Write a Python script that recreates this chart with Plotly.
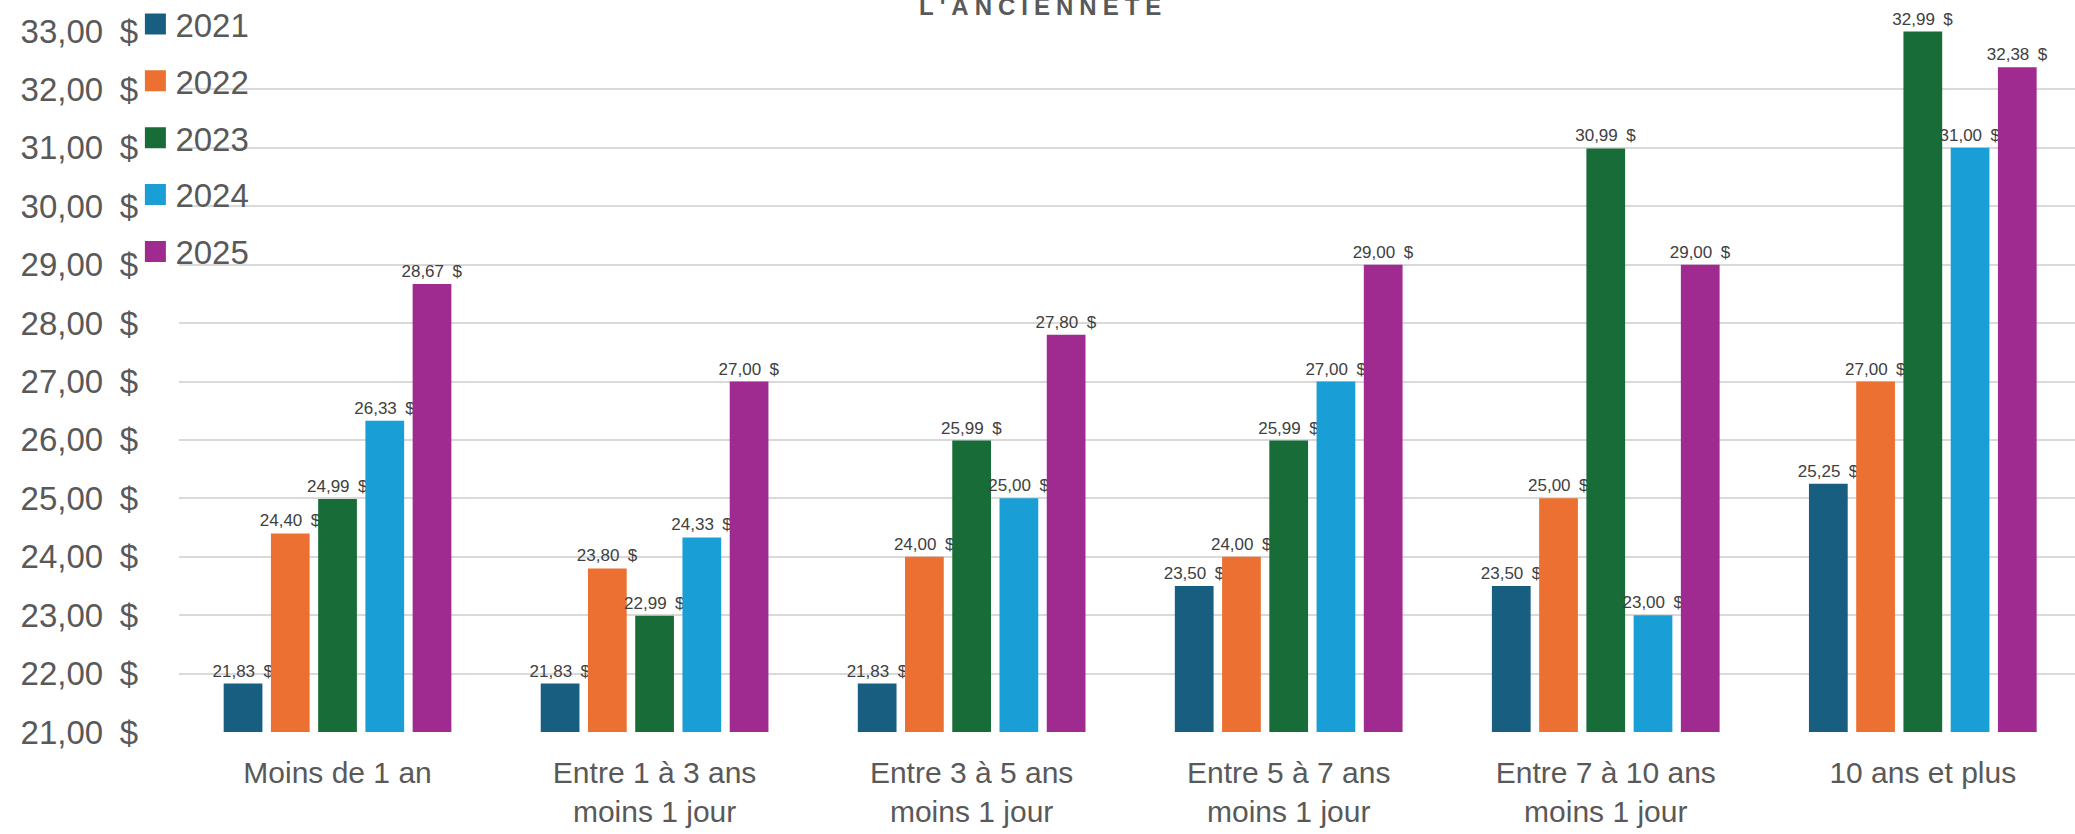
import plotly.graph_objects as go

categories = [
    "Moins de 1 an",
    "Entre 1 à 3 ans<br>moins 1 jour",
    "Entre 3 à 5 ans<br>moins 1 jour",
    "Entre 5 à 7 ans<br>moins 1 jour",
    "Entre 7 à 10 ans<br>moins 1 jour",
    "10 ans et plus",
]
years = ["2021", "2022", "2023", "2024", "2025"]
v2021 = [21.83, 21.83, 21.83, 23.50, 23.50, 25.25]
v2022 = [24.40, 23.80, 24.00, 24.00, 25.00, 27.00]
v2023 = [24.99, 22.99, 25.99, 25.99, 30.99, 32.99]
v2024 = [26.33, 24.33, 25.00, 27.00, 23.00, 31.00]
v2025 = [28.67, 27.00, 27.80, 29.00, 29.00, 32.38]
series = [v2021, v2022, v2023, v2024, v2025]
colors = ["#185E81", "#EC7031", "#176C38", "#1A9ED6", "#A02B90"]
y_ticks = [21, 22, 23, 24, 25, 26, 27, 28, 29, 30, 31, 32, 33]
title_text = "L'ANCIENNETÉ"


def money(v):
    return f"{v:.2f}".replace(".", ",") + "\u2002$"


fig = go.Figure()
for name, vals, col in zip(years, series, colors):
    fig.add_trace(go.Bar(
        x=categories, y=vals, name=name,
        marker=dict(color=col, line=dict(width=0)),
        text=[money(v) for v in vals],
        textposition="outside",
        constraintext="none",
        textfont=dict(family="Liberation Sans, Arial", size=17, color="#404040"),
        cliponaxis=False,
        showlegend=False,
    ))
    fig.add_trace(go.Scatter(
        x=[None], y=[None], name=name, mode="markers",
        marker=dict(symbol="square", size=16, color=col, line=dict(color=col, width=5)),
        showlegend=True, legendgroup=name,
    ))

fig.update_layout(
    width=2075, height=834, autosize=False,
    margin=dict(l=179, r=0, t=31, b=102, pad=0, autoexpand=False),
    paper_bgcolor="white", plot_bgcolor="white",
    barmode="group", bargap=0.255, bargroupgap=0.18,
    font=dict(family="Liberation Sans, Arial", color="#595959"),
    legend=dict(
        x=-0.023, xanchor="left", y=1.05, yanchor="top",
        font=dict(size=33, color="#595959"),
        bgcolor="rgba(0,0,0,0)", tracegroupgap=11,
        itemclick=False,
    ),
    xaxis=dict(
        range=[-0.5, 5.48], showgrid=False, showline=False, zeroline=False,
        tickfont=dict(size=30, color="#595959"), ticks="", ticklabelstandoff=20,
    ),
    yaxis=dict(
        range=[21, 33], tickvals=y_ticks, ticktext=[money(v) for v in y_ticks],
        showgrid=True, gridcolor="#D9D9D9", gridwidth=1.5,
        showline=False, zeroline=False,
        tickfont=dict(size=33, color="#595959"), ticks="", ticklabelstandoff=40,
    ),
    annotations=[dict(
        text="<b>" + "\u2005".join(title_text) + "</b>",
        xref="paper", yref="paper", x=(1040 - 179) / 1896, y=1,
        xanchor="center", yanchor="bottom", yshift=9, showarrow=False,
        font=dict(family="Liberation Sans, Arial", size=24, color="#595959"),
    )],
)

fig.write_html("out.html", config={"displayModeBar": False},
               post_script="document.body.style.margin='0';")
